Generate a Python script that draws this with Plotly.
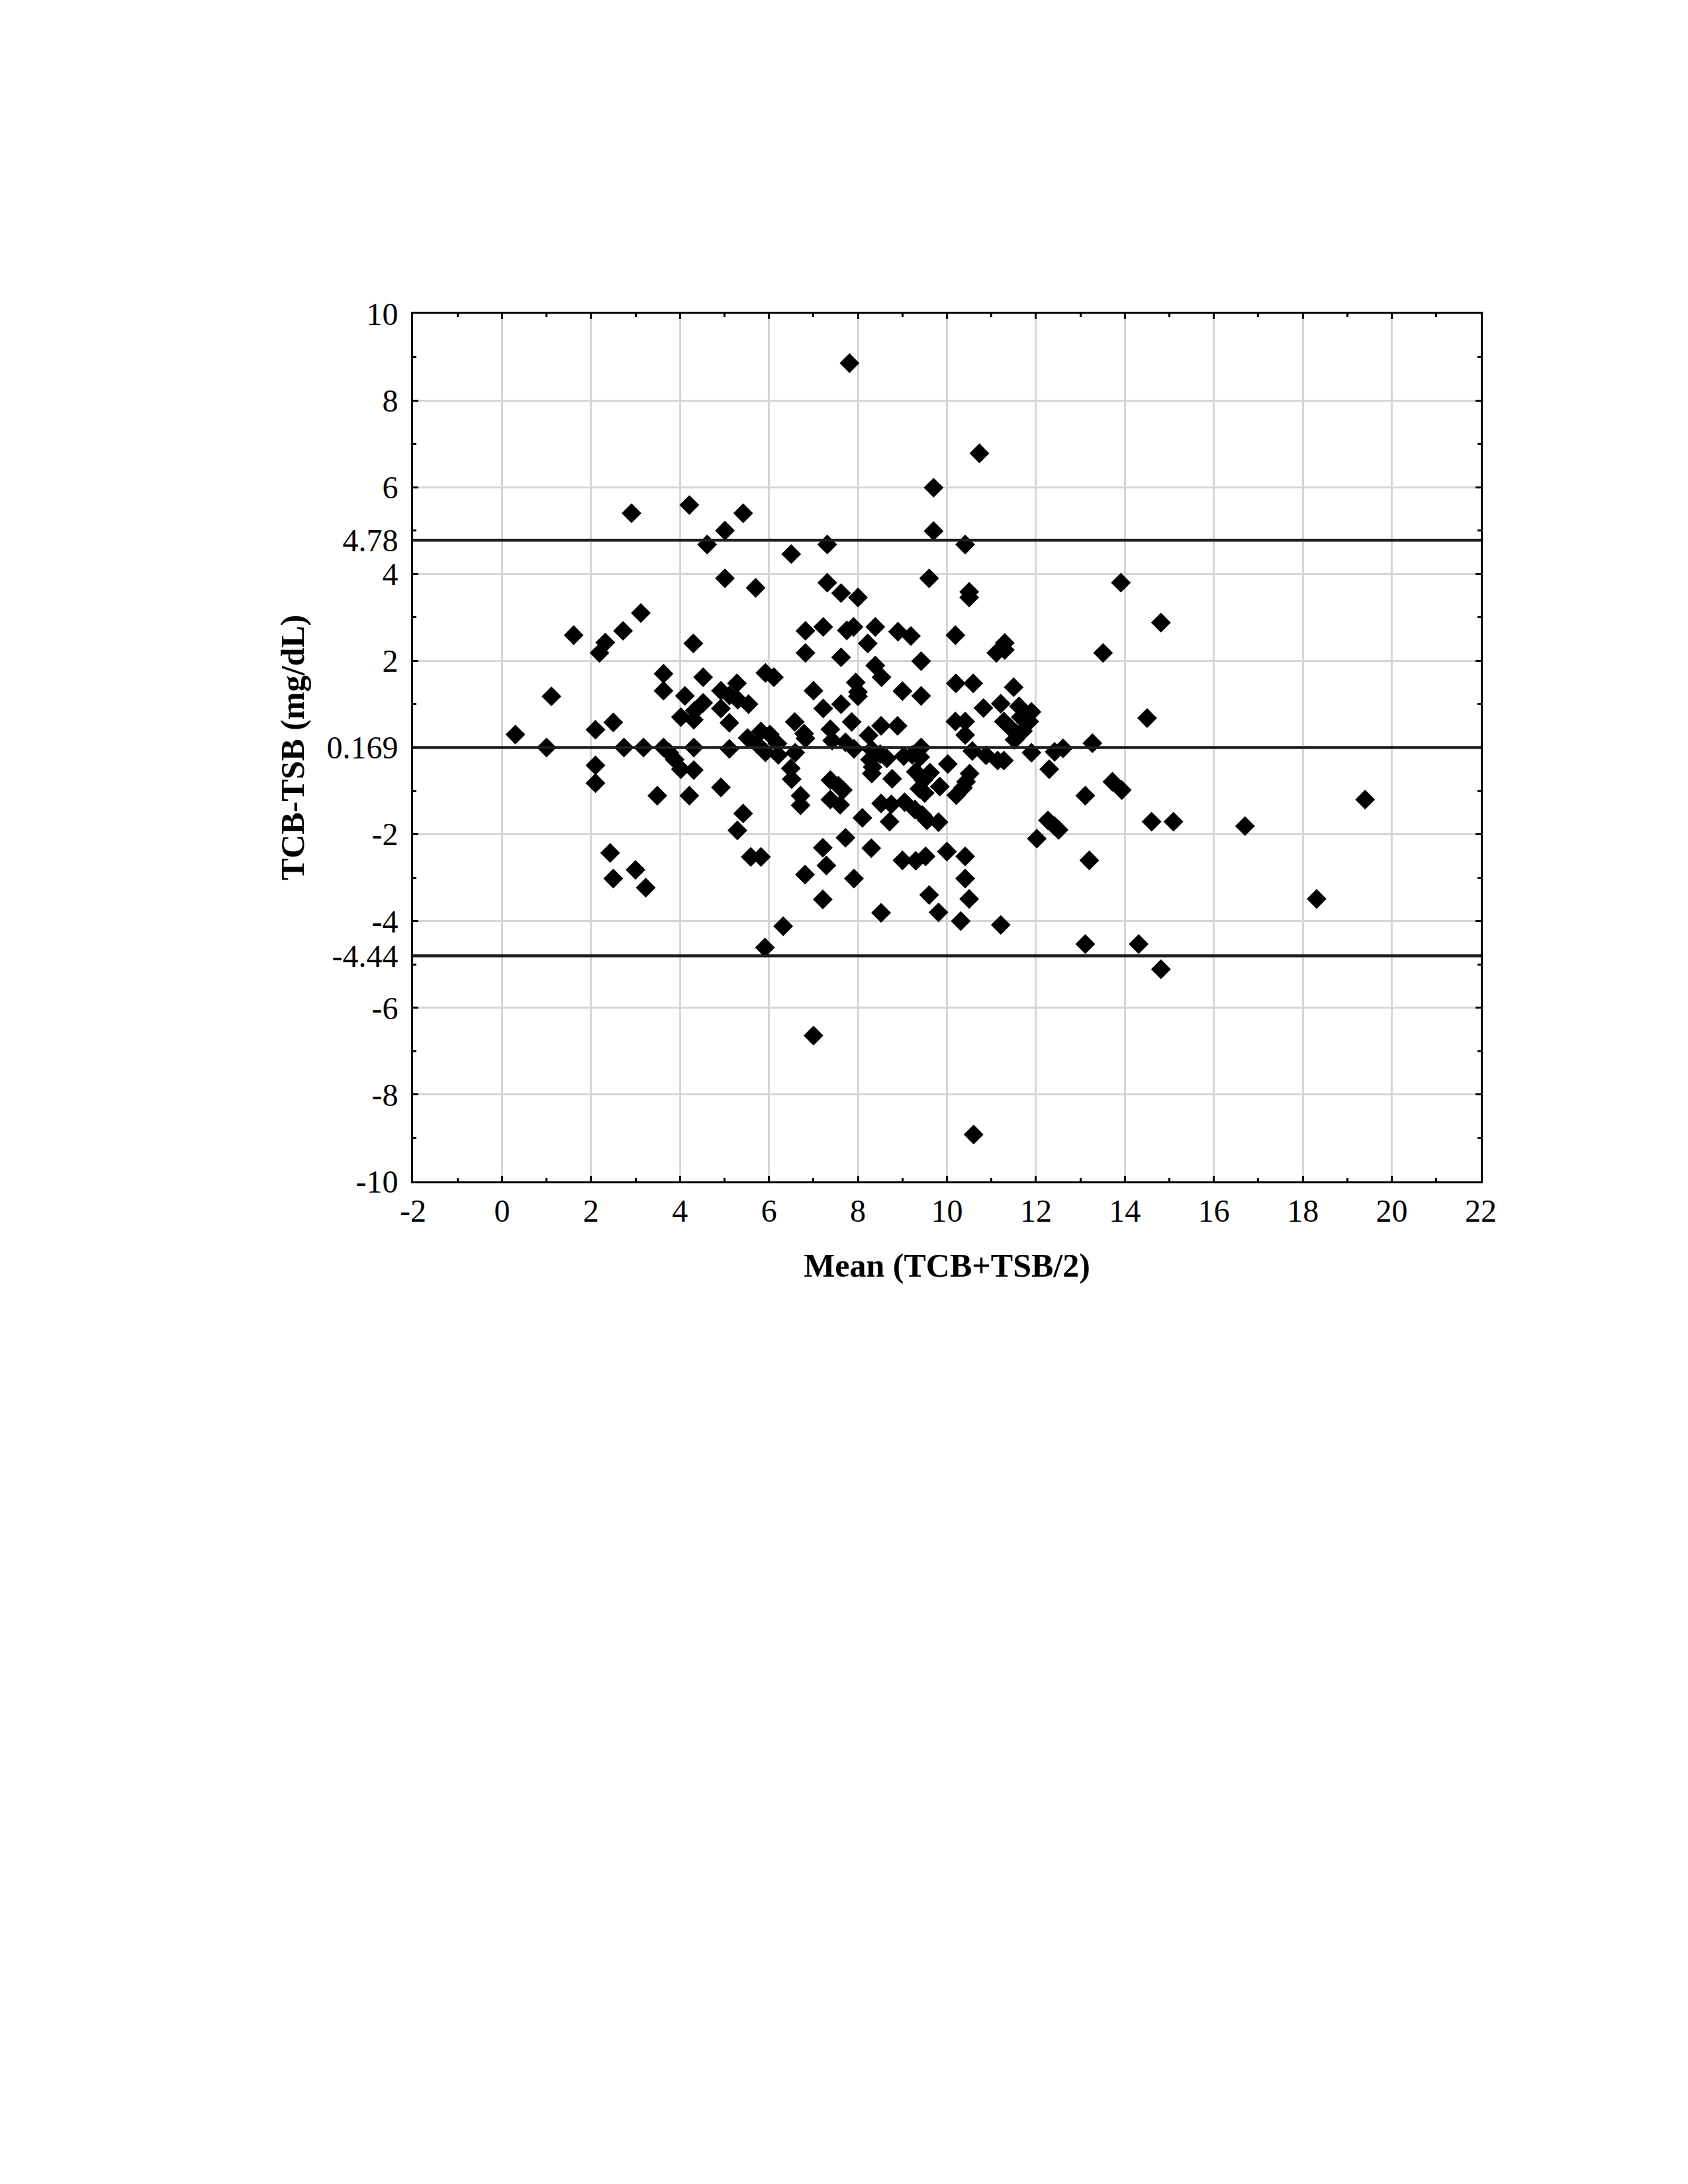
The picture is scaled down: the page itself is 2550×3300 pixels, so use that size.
import plotly.graph_objects as go

# Mean (TCB+TSB)/2 values and differences TCB-TSB
mean_vals = [
    0.30, 1.00, 1.11, 1.61, 2.19, 2.32, 2.72, 2.10, 2.50, 2.10, 2.10, 2.43, 2.50, 3.00, 3.23, 2.74, 3.18, 2.91,
    3.12, 4.21, 4.61, 3.63, 3.63, 4.52, 4.11, 4.30, 4.52, 4.33, 4.02, 4.31, 3.63, 3.76, 3.88, 4.02, 4.31, 4.31,
    3.49, 4.21, 4.92, 4.92, 4.92,
    5.01, 5.01, 5.42, 5.70, 6.50, 5.28, 5.11, 5.30, 5.54, 5.92, 6.11, 5.11, 5.11, 5.52, 5.82, 6.02, 5.74, 5.92,
    6.19, 6.21, 5.42, 5.29, 5.59, 5.82, 5.91, 6.32, 6.58, 6.79, 6.82, 6.59, 6.49, 6.51, 6.71, 6.71, 6.82, 6.82,
    6.81,
    7.00, 7.81, 7.31, 7.31, 7.62, 8.00, 7.22, 7.75, 7.90, 8.39, 8.22, 7.62, 8.39, 8.53, 8.90, 7.00, 7.22, 7.62,
    7.95, 8.00, 8.00, 7.38, 7.42, 7.86, 7.72, 7.91, 8.24, 8.52, 8.89, 8.31, 8.50, 8.27, 8.65, 8.33, 8.31, 8.77,
    7.38, 7.56, 7.66, 7.38, 7.60, 8.10, 8.71, 8.52, 8.75, 7.72, 7.21, 7.29, 7.21, 7.91, 8.30, 8.52,
    9.19, 9.42, 9.00, 9.42, 9.70, 9.70, 10.73, 10.41, 9.60, 10.50, 10.50, 10.19, 10.20, 10.59, 10.82, 10.19,
    10.41, 10.41, 10.57, 10.02, 10.88, 9.03, 9.22, 9.42, 9.40, 9.30, 9.62, 9.47, 9.38, 9.50, 9.84, 10.51, 10.43,
    10.36, 10.21, 9.05, 9.28, 9.45, 9.55, 9.81, 9.00, 9.30, 9.52, 10.00, 10.41, 10.41, 10.50, 9.60, 9.81, 10.31,
    10.60,
    11.30, 11.11, 11.30, 11.50, 11.21, 11.28, 11.42, 11.56, 11.52, 11.71, 11.66, 11.62, 11.90, 11.85, 11.14,
    11.28, 11.90, 12.42, 12.61, 12.30, 12.02, 12.27, 12.42, 12.51, 11.21, 13.27, 13.11, 13.72, 13.93, 13.20,
    13.11, 14.31, 14.81, 14.50, 14.60, 15.09, 16.70, 18.31, 19.40, 13.51, 13.91, 14.81,
]
diff_vals = [
    0.30, 0.00, 1.18, 2.59, 2.18, 2.42, 2.69, 0.41, 0.58, -0.41, -0.82, -2.43, -3.02, -2.82, -3.23, 0.00, 0.00, 5.40,
    3.10, 5.59, 4.68, 1.70, 1.31, 1.62, 1.19, 2.40, 1.03, 0.85, 0.70, 0.64, 0.00, -0.12, -0.28, -0.50, 0.00, -0.52,
    -1.11, -1.11, -0.92, 1.31, 0.90,
    3.90, 5.00, 5.40, 3.68, 4.46, 1.48, 1.20, 1.10, 1.00, 1.72, 1.62, 0.57, -0.03, 0.22, 0.37, 0.30, 0.07, -0.11,
    0.09, -0.17, -1.52, -1.91, -2.52, -2.52, -4.61, -4.12, 0.59, 0.32, 0.21, -0.12, -0.48, -0.73, -1.11, -1.33,
    2.69, 2.18, -2.93,
    -6.64, 8.86, 4.68, 3.80, 3.56, 3.46, 2.78, 2.70, 2.78, 2.78, 2.40, 2.08, 1.89, 1.62, 2.67, 1.31, 0.90, 1.00,
    1.50, 1.28, 1.18, 0.42, 0.16, 0.59, 0.12, -0.03, 0.28, 0.50, 0.50, -0.05, -0.15, -0.28, -0.25, -0.45, -0.60,
    -0.72, -0.75, -0.88, -0.98, -1.20, -1.32, -1.62, -1.71, -1.29, -1.31, -2.08, -2.31, -2.72, -3.50, -3.02,
    -2.32, -3.81,
    2.57, 1.99, 1.30, 1.19, 5.99, 4.99, 6.78, 4.68, 3.90, 3.59, 3.46, 2.59, 1.48, 1.48, 0.91, 0.60,
    0.60, 0.29, -0.08, -0.38, -0.18, -0.20, -0.17, 0.00, -0.22, -0.56, -0.58, -0.75, -0.95, -1.05, -0.90, -0.60,
    -0.79, -0.93, -1.10, -1.26, -1.43, -1.56, -1.68, -1.72, -2.60, -2.61, -2.51, -2.40, -2.51, -3.02, -3.49,
    -3.40, -3.80, -4.00, -8.92,
    2.41, 2.18, 2.25, 1.39, 1.01, 0.60, 0.46, 0.33, 0.18, 0.38, 0.70, 0.95, 0.82, 0.60, -0.30,
    -0.30, -0.12, -0.10, -0.02, -0.50, -2.10, -1.68, -1.81, -1.90, -4.09, 0.10, -1.11, -0.79, -0.98, -2.60,
    -4.53, -4.53, -5.11, 0.68, -1.71, -1.71, -1.81, -3.49, -1.20, 2.18, 3.80, 2.88,
]

# Horizontal reference lines (drawn positions) and their labels
limit_line_y = [4.78, 0.0, -4.8]
limit_labels = ["4.78", "0.169", "-4.44"]

x_tick_vals = [-2, 0, 2, 4, 6, 8, 10, 12, 14, 16, 18, 20, 22]
x_minor_vals = [-1, 1, 3, 5, 7, 9, 11, 13, 15, 17, 19, 21]
y_major_vals = [10, 8, 6, 4, 2, -2, -4, -6, -8, -10]
y_minor_vals = [9, 7, 5, 3, 1, -1, -3, -5, -7, -9]

y_tick_vals = y_major_vals + limit_line_y
y_tick_text = [str(v) for v in y_major_vals] + limit_labels

x_title = "Mean (TCB+TSB/2)"
y_title = "TCB-TSB (mg/dL)"

FONT = "Liberation Serif"

fig = go.Figure()
fig.add_trace(go.Scatter(
    x=mean_vals, y=diff_vals, mode="markers",
    marker=dict(symbol="diamond", size=23, color="black", line=dict(width=0)),
    showlegend=False,
))

for yv in limit_line_y:
    fig.add_hline(y=yv, line=dict(color="#1e1e1e", width=4.5), layer="above")

axis_common = dict(
    showline=True, linecolor="black", linewidth=3, mirror="ticks",
    ticks="inside", ticklen=8, tickwidth=2.5, tickcolor="black",
    showgrid=True, gridcolor="#d6d6d6", gridwidth=2.5,
    zeroline=False,
    tickfont=dict(family=FONT, size=48, color="black"),
)

fig.update_xaxes(
    range=[-2, 22], tickmode="array", tickvals=x_tick_vals,
    ticktext=[str(v) for v in x_tick_vals],
    minor=dict(tickmode="array", tickvals=x_minor_vals, ticks="inside", ticklen=5,
               tickwidth=2.5, tickcolor="black", showgrid=False),
    title=dict(text="<b>" + x_title + "</b>", font=dict(family=FONT, size=50, color="black"), standoff=40),
    ticklabelstandoff=0,
    **axis_common,
)
fig.update_yaxes(
    range=[-10, 10], tickmode="array", tickvals=y_tick_vals, ticktext=y_tick_text,
    minor=dict(tickmode="array", tickvals=y_minor_vals, ticks="inside", ticklen=5,
               tickwidth=2.5, tickcolor="black", showgrid=False),
    title=dict(text="<b>" + y_title + "</b>", font=dict(family=FONT, size=50, color="black"), standoff=18),
    ticklabelstandoff=10,
    **axis_common,
)

# page body has an 8 px default margin, so the figure is offset by 8 px
fig.update_layout(
    width=2534, height=3284,
    margin=dict(l=616, r=305, t=466, b=1507, pad=0),
    paper_bgcolor="white", plot_bgcolor="white",
    font=dict(family=FONT, color="black"),
)

fig.write_html("out.html")
